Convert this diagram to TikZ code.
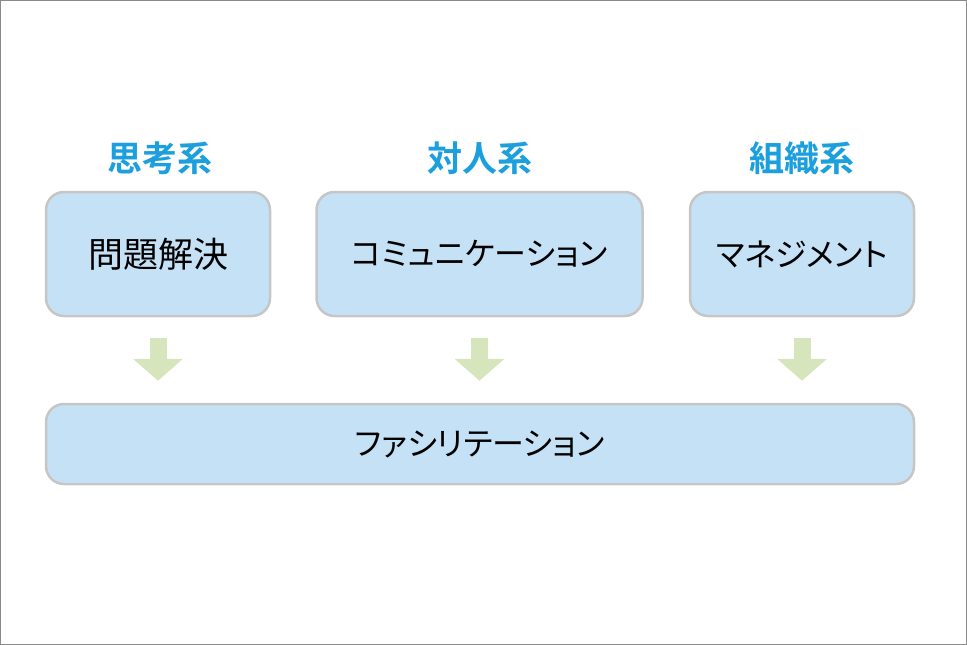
\documentclass[tikz,border=0pt]{standalone}
\usepackage{fontspec}
\newfontfamily\jpfont[BoldFont={* Bold},RawFeature=+palt]{Noto Sans CJK JP}
\usetikzlibrary{arrows.meta}

\definecolor{boxfill}{HTML}{C5E1F6}
\definecolor{boxline}{HTML}{C6C6C6}
\definecolor{headblue}{HTML}{1BA0DD}
\definecolor{arrowgreen}{HTML}{D7E5BD}
\definecolor{framegray}{HTML}{8A8A8A}

\tikzset{
  skill/.style = {draw = boxline, fill = boxfill, line width = 2.5pt, rounded corners = 18pt,
                  minimum height = 124pt, font = \jpfont\fontsize{32}{38}\selectfont},
  group/.style = {text = headblue, font = \jpfont\bfseries\fontsize{35}{42}\selectfont},
  flow/.style  = {draw = arrowgreen, line width = 17pt,
                  -{Triangle[width = 50pt, length = 22pt, line width = 0pt]}}
}

\begin{document}
\begin{tikzpicture}[x = 1pt, y = -1pt]
  \useasboundingbox (0,0) rectangle (967,645);
  \draw[framegray, line width = 1pt] (0.5,0.5) rectangle (966.5,644.5);

  \node[group] at (160, 158)  (g1) {思考系};
  \node[group] at (480, 158)  (g2) {対人系};
  \node[group] at (802, 158)  (g3) {組織系};

  \node[skill, minimum width = 224pt, font = \jpfont\fontsize{35}{42}\selectfont] at (158, 254) (p1) {問題解決};
  \node[skill, minimum width = 326pt] at (479.5, 254) (p2) {コミュニケーション};
  \node[skill, minimum width = 224pt] at (802,   254) (p3) {マネジメント};

  \node[skill, minimum width = 868pt, minimum height = 80pt] at (480, 444) (f) {ファシリテーション};

  \draw[flow] ([yshift = -21pt] p1.south) -- ([yshift = 22pt] p1.south |- f.north);
  \draw[flow] ([yshift = -21pt] p2.south) -- ([yshift = 22pt] p2.south |- f.north);
  \draw[flow] ([yshift = -21pt] p3.south) -- ([yshift = 22pt] p3.south |- f.north);
\end{tikzpicture}
\end{document}
